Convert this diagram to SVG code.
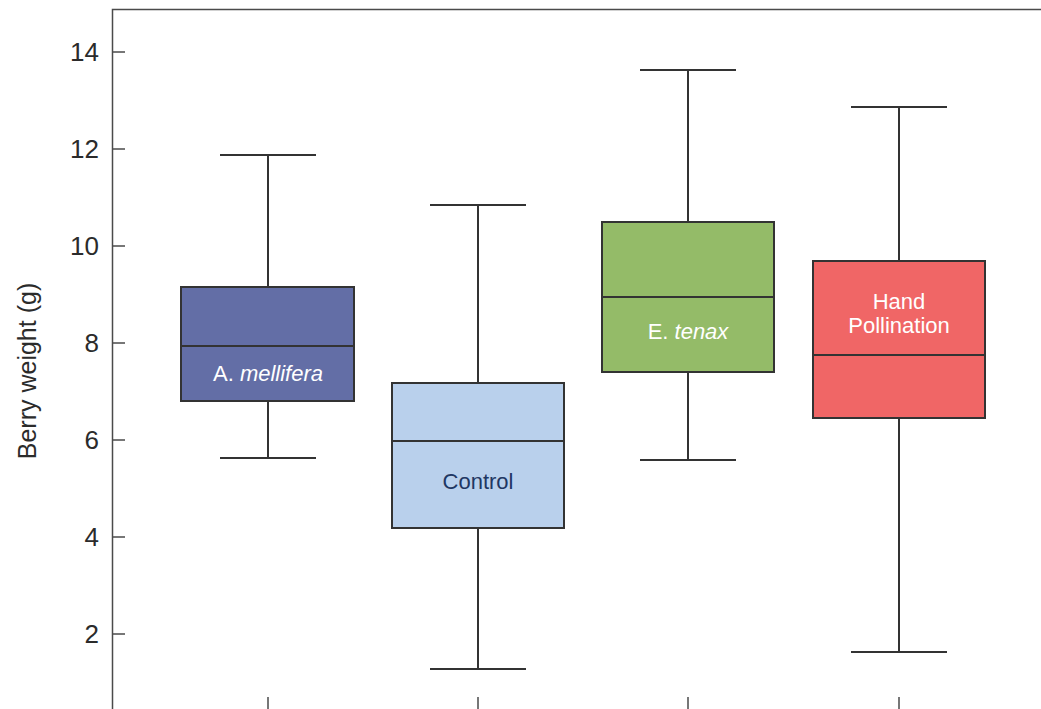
<svg xmlns="http://www.w3.org/2000/svg" width="1041" height="709" viewBox="0 0 1041 709">
<style>
.ax{stroke:#4a4a4a;stroke-width:1.5;fill:none}
.tk{stroke:#4a4a4a;stroke-width:1.5}
.tl{font-family:"Liberation Sans",Arial,sans-serif;font-size:26px;fill:#2b2b2b;text-anchor:end}
.wh{stroke:#333;stroke-width:2;fill:none}
.bx{stroke:#333;stroke-width:2}
.lb{font-family:"Liberation Sans",Arial,sans-serif;font-size:22px;text-anchor:middle}
</style>
<rect width="1041" height="709" fill="#fff"/>
<g id="axes">
<path class="ax" d="M112.5,709 V9.5 H1041"/>
<g class="tk">
<line x1="113" y1="52" x2="125" y2="52"/>
<line x1="113" y1="149" x2="125" y2="149"/>
<line x1="113" y1="246" x2="125" y2="246"/>
<line x1="113" y1="343" x2="125" y2="343"/>
<line x1="113" y1="440" x2="125" y2="440"/>
<line x1="113" y1="537" x2="125" y2="537"/>
<line x1="113" y1="634" x2="125" y2="634"/>
<line x1="268" y1="697" x2="268" y2="709"/>
<line x1="478" y1="697" x2="478" y2="709"/>
<line x1="688" y1="697" x2="688" y2="709"/>
<line x1="899" y1="697" x2="899" y2="709"/>
</g>
<text class="tl" x="99" y="61">14</text>
<text class="tl" x="99" y="158">12</text>
<text class="tl" x="99" y="255">10</text>
<text class="tl" x="99" y="352">8</text>
<text class="tl" x="99" y="449">6</text>
<text class="tl" x="99" y="546">4</text>
<text class="tl" x="99" y="643">2</text>
<text font-family="'Liberation Sans',Arial,sans-serif" font-size="25" fill="#2b2b2b" text-anchor="middle" transform="translate(36,371) rotate(-90)">Berry weight (g)</text>
</g>
<g id="box-mellifera">
<path class="wh" d="M268,155 V287 M268,401 V458 M220,155 H316 M220,458 H316"/>
<rect class="bx" x="181" y="287" width="173" height="114" fill="#636EA6"/>
<line class="bx" x1="181" y1="346" x2="354" y2="346"/>
<text class="lb" x="268" y="381" fill="#fff">A. <tspan font-style="italic">mellifera</tspan></text>
</g>
<g id="box-control">
<path class="wh" d="M478,205 V383 M478,528 V669 M430,205 H526 M430,669 H526"/>
<rect class="bx" x="392" y="383" width="172" height="145" fill="#B9D0EC"/>
<line class="bx" x1="392" y1="441" x2="564" y2="441"/>
<text class="lb" x="478" y="489" fill="#1F3763">Control</text>
</g>
<g id="box-tenax">
<path class="wh" d="M688,70 V222 M688,372 V460 M640,70 H736 M640,460 H736"/>
<rect class="bx" x="602" y="222" width="172" height="150" fill="#94BB68"/>
<line class="bx" x1="602" y1="297" x2="774" y2="297"/>
<text class="lb" x="688" y="339" fill="#fff">E. <tspan font-style="italic">tenax</tspan></text>
</g>
<g id="box-hand">
<path class="wh" d="M899,107 V261 M899,418 V652 M851,107 H947 M851,652 H947"/>
<rect class="bx" x="813" y="261" width="172" height="157" fill="#F06666"/>
<line class="bx" x1="813" y1="355" x2="985" y2="355"/>
<text class="lb" x="899" y="309" fill="#fff">Hand</text>
<text class="lb" x="899" y="333" fill="#fff">Pollination</text>
</g>
</svg>
